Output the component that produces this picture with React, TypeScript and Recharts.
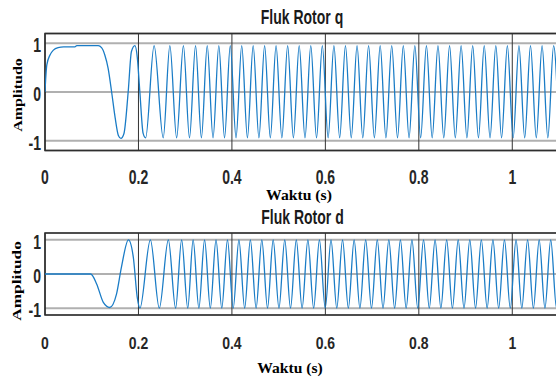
import { LineChart, Line, XAxis, YAxis, CartesianGrid, ReferenceArea } from "recharts";

// time axis ticks (s) and amplitude ticks
const xTicks = [0, 0.2, 0.4, 0.6, 0.8, 1];
const yTicks = [-1, 0, 1];

// Fluk Rotor q : [time, amplitude] (start-up part, then peaks / troughs)
const fluxQ: [number, number][] = [
  [0, 0], [0.002, 0.35], [0.004, 0.56], [0.0107, 0.76], [0.018, 0.86], [0.028, 0.91],
  [0.04, 0.925], [0.064, 0.925], [0.068, 0.95], [0.114, 0.95], [0.121, 0.91], [0.128, 0.76],
  [0.135, 0.49], [0.1426, 0], [0.15, -0.52], [0.157, -0.89], [0.1625, -0.95], [0.169, -0.85],
  [0.178, 0], [0.185, 0.83], [0.1925, 0.95], [0.1975, 0.71], [0.203, 0], [0.21, -0.85],
  [0.2154, -0.94], [0.2335, 0.95], [0.253, -0.94], [0.2672, 0.95], [0.2817, -0.94],
  [0.2962, 0.95], [0.3092, -0.94], [0.3222, 0.95], [0.3347, -0.94], [0.3472, 0.95],
  [0.3596, -0.94], [0.372, 0.95], [0.3842, -0.94], [0.3965, 0.95], [0.4088, -0.94],
  [0.421, 0.95], [0.4332, -0.94], [0.4455, 0.95], [0.4578, -0.94], [0.47, 0.95],
  [0.4822, -0.94], [0.4945, 0.95], [0.5069, -0.94], [0.5193, 0.95], [0.5316, -0.94],
  [0.544, 0.95], [0.5564, -0.94], [0.5688, 0.95], [0.5811, -0.94], [0.5935, 0.95],
  [0.6059, -0.94], [0.6183, 0.95], [0.6306, -0.94], [0.643, 0.95], [0.6554, -0.94],
  [0.6678, 0.95], [0.6801, -0.94], [0.6925, 0.95], [0.7049, -0.94], [0.7173, 0.95],
  [0.7296, -0.94], [0.742, 0.95], [0.7544, -0.94], [0.7668, 0.95], [0.7791, -0.94],
  [0.7915, 0.95], [0.8039, -0.94], [0.8163, 0.95], [0.8286, -0.94], [0.841, 0.95],
  [0.8534, -0.94], [0.8658, 0.95], [0.8781, -0.94], [0.8905, 0.95], [0.9029, -0.94],
  [0.9153, 0.95], [0.9276, -0.94], [0.94, 0.95], [0.9524, -0.94], [0.9648, 0.95],
  [0.9771, -0.94], [0.9895, 0.95], [1.0019, -0.94], [1.0143, 0.95], [1.0266, -0.94],
  [1.039, 0.95], [1.0514, -0.94], [1.0638, 0.95], [1.0761, -0.94], [1.0885, 0.95],
  [1.1, -0.93],
];

// Fluk Rotor d
const fluxD: [number, number][] = [
  [0, 0], [0.0977, 0], [0.1105, -0.29], [0.1248, -0.83], [0.1385, -0.98], [0.153, -0.59],
  [0.1636, 0.2], [0.1785, 1], [0.189, 0.49], [0.1975, -0.69], [0.2032, -1], [0.2255, 1],
  [0.2446, -1], [0.264, 1], [0.2795, -1], [0.2924, 1], [0.3055, -1], [0.317, 1],
  [0.3293, -1], [0.3415, 1], [0.3538, -1], [0.366, 1], [0.3783, -1], [0.3905, 1],
  [0.4028, -1], [0.415, 1], [0.4273, -1], [0.4395, 1], [0.4518, -1], [0.464, 1],
  [0.4762, -1], [0.4883, 1], [0.5007, -1], [0.5131, 1], [0.5254, -1], [0.5378, 1],
  [0.5502, -1], [0.5626, 1], [0.5749, -1], [0.5873, 1], [0.5997, -1], [0.6121, 1],
  [0.6244, -1], [0.6368, 1], [0.6492, -1], [0.6616, 1], [0.6739, -1], [0.6863, 1],
  [0.6987, -1], [0.7111, 1], [0.7234, -1], [0.7358, 1], [0.7482, -1], [0.7606, 1],
  [0.7729, -1], [0.7853, 1], [0.7977, -1], [0.8101, 1], [0.8224, -1], [0.8348, 1],
  [0.8472, -1], [0.8596, 1], [0.8719, -1], [0.8843, 1], [0.8967, -1], [0.9091, 1],
  [0.9214, -1], [0.9338, 1], [0.9462, -1], [0.9586, 1], [0.9709, -1], [0.9833, 1],
  [0.9957, -1], [1.0081, 1], [1.0204, -1], [1.0328, 1], [1.0452, -1], [1.0576, 1],
  [1.0699, -1], [1.0823, 1], [1.0947, -1], [1.1, -0.92],
];

const toRows = (pts: [number, number][]) => pts.map(([t, v]) => ({ t, v }));

const tickFont = "'Liberation Sans', Arial, sans-serif";
const serif = "'Liberation Serif', 'Times New Roman', serif";

function XTick(props: any) {
  const { x, y, payload, stretch, offset } = props;
  return (
    <text
      transform={`translate(${x},${y + offset}) scale(1,${stretch})`}
      textAnchor="middle"
      fontFamily={tickFont}
      fontWeight="bold"
      fontSize={14}
      fill="#262626"
    >
      {String(payload.value)}
    </text>
  );
}

function YTick(props: any) {
  const { x, y, payload } = props;
  return (
    <text
      transform={`translate(${x - 4},${y}) scale(1,1.4)`}
      y={6.5}
      textAnchor="end"
      fontFamily={tickFont}
      fontWeight="bold"
      fontSize={14}
      fill="#262626"
    >
      {String(payload.value)}
    </text>
  );
}

function FluxPanel({ rows, height, margin, axisHeight, stretch, offset }: any) {
  return (
    <LineChart width={560} height={height} data={rows} margin={margin}>
      <CartesianGrid vertical={false} stroke="#b0b0b0" strokeWidth={2} />
      <CartesianGrid horizontal={false} stroke="#333" strokeWidth={1} />
      <XAxis
        dataKey="t"
        type="number"
        domain={[0, 1.1]}
        ticks={xTicks}
        allowDataOverflow
        axisLine={false}
        tickLine={false}
        tickSize={0}
        tickMargin={0}
        height={axisHeight}
        tick={<XTick stretch={stretch} offset={offset} />}
      />
      <YAxis
        type="number"
        domain={[-1.2, 1.2]}
        ticks={yTicks}
        allowDataOverflow
        axisLine={false}
        tickLine={false}
        tickSize={0}
        tickMargin={0}
        width={45}
        tick={<YTick />}
      />
      <ReferenceArea
        x1={0}
        x2={1.1}
        y1={-1.2}
        y2={1.2}
        fill="none"
        fillOpacity={0}
        stroke="#2e2e2e"
        strokeWidth={1.6}
        ifOverflow="visible"
      />
      <Line
        type="monotone"
        dataKey="v"
        stroke="#1a7cc6"
        strokeWidth={1.3}
        dot={false}
        isAnimationActive={false}
      />
    </LineChart>
  );
}

export default function App() {
  return (
    <div
      style={{
        position: "fixed",
        left: 0,
        top: 0,
        width: 556,
        height: 378,
        overflow: "hidden",
        background: "#fff",
      }}
    >
      <div style={{ position: "absolute", left: 0, top: 0 }}>
        <FluxPanel
          rows={toRows(fluxQ)}
          height={200}
          margin={{ top: 33.5, right: 1, bottom: 9.5, left: 0 }}
          axisHeight={40}
          stretch={1.4}
          offset={33}
        />
      </div>
      <div style={{ position: "absolute", left: 0, top: 200 }}>
        <FluxPanel
          rows={toRows(fluxD)}
          height={178}
          margin={{ top: 33, right: 1, bottom: 13, left: 0 }}
          axisHeight={50}
          stretch={1.2}
          offset={34}
        />
      </div>
      <svg
        width={556}
        height={378}
        style={{ position: "absolute", left: 0, top: 0, pointerEvents: "none" }}
      >
        <text
          transform="translate(302,23.5) scale(1,1.4)"
          textAnchor="middle"
          fontFamily={tickFont}
          fontWeight="bold"
          fontSize={14}
          fill="#1a1a1a"
        >
          Fluk Rotor q
        </text>
        <text
          transform="translate(302.5,224) scale(1,1.5)"
          textAnchor="middle"
          fontFamily={tickFont}
          fontWeight="bold"
          fontSize={14}
          fill="#1a1a1a"
        >
          Fluk Rotor d
        </text>
        <text
          transform="translate(21.5,95) scale(1,1.23) rotate(-90)"
          textAnchor="middle"
          fontFamily={serif}
          fontWeight="bold"
          fontSize={13}
          fill="#000"
        >
          Amplitudo
        </text>
        <text
          transform="translate(21,281) scale(1,1.33) rotate(-90)"
          textAnchor="middle"
          fontFamily={serif}
          fontWeight="bold"
          fontSize={13}
          fill="#000"
        >
          Amplitudo
        </text>
        <text
          transform="translate(299,199.5) scale(1.12,1)"
          textAnchor="middle"
          fontFamily={serif}
          fontWeight="bold"
          fontSize={14}
          fill="#000"
        >
          Waktu (s)
        </text>
        <text
          transform="translate(290,373) scale(1.04,1)"
          textAnchor="middle"
          fontFamily={serif}
          fontWeight="bold"
          fontSize={15}
          fill="#000"
        >
          Waktu (s)
        </text>
      </svg>
    </div>
  );
}
